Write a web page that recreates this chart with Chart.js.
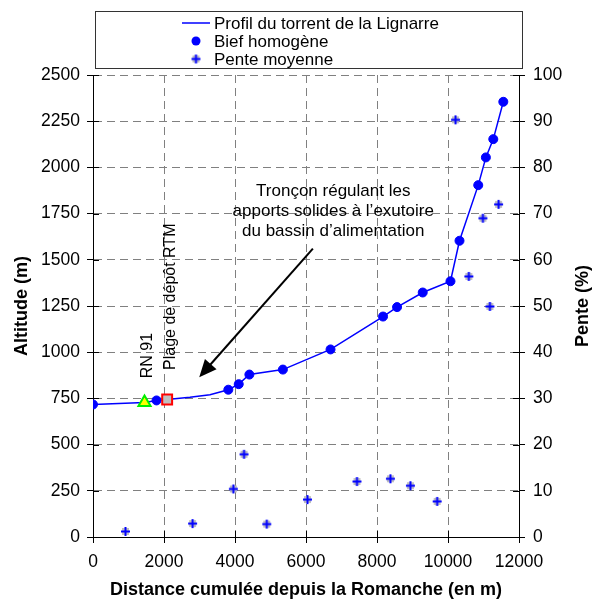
<!DOCTYPE html>
<html>
<head>
<meta charset="utf-8">
<script src="https://cdn.jsdelivr.net/npm/chart.js@4.4.1/dist/chart.umd.min.js"></script>
<style>
  html, body { margin: 0; padding: 0; background: #fff; }
</style>
</head>
<body>
<canvas id="chart" width="599" height="605"></canvas>
<script>
// profil en long (line)
const profilX = [0, 1451, 1790, 2089, 2730, 3295, 3812, 4105, 4405, 5349, 6691, 8170, 8565, 9288, 10070, 10324, 10852, 11067, 11276, 11558];
const profilY = [717, 728, 739, 744, 756, 770, 797, 827, 879, 906, 1015, 1193, 1244, 1323, 1384, 1603, 1904, 2054, 2153, 2355];

// biefs homogènes (dots)
const biefX = [0, 1790, 3812, 4105, 4405, 5349, 6691, 8170, 8565, 9288, 10070, 10324, 10852, 11067, 11276, 11558];
const biefY = [717, 739, 797, 827, 879, 906, 1015, 1193, 1244, 1323, 1384, 1603, 1904, 2054, 2153, 2355];

// pente moyenne (%), right axis
const penteX = [915, 2806, 3953, 4255, 4896, 6042, 7436, 8377, 8941, 9694, 10212, 10587, 10983, 11180, 11426];
const penteY = [1.2, 2.9, 10.4, 17.9, 2.8, 8.1, 12.0, 12.6, 11.1, 7.7, 90.3, 56.4, 69.0, 49.9, 72.0];

// RN 91 (triangle) and plage de dépôt RTM (square)
const rn91X = [1451];
const rn91Y = [728];
const plageX = [2089];
const plageY = [744];

const xTicks = [0, 2000, 4000, 6000, 8000, 10000, 12000];
const altTicks = [0, 250, 500, 750, 1000, 1250, 1500, 1750, 2000, 2250, 2500];
const penteTicks = [0, 10, 20, 30, 40, 50, 60, 70, 80, 90, 100];

const FONT = "'Liberation Sans', Arial, sans-serif";

function pts(xs, ys) {
    return xs.map((x, i) => ({ x: x, y: ys[i] }));
}

function penteMarker() {
    const c = document.createElement('canvas');
    c.width = 11; c.height = 11;
    const g = c.getContext('2d');
    g.fillStyle = '#c0c0c0';
    g.fillRect(2, 2, 7, 7);
    g.strokeStyle = '#0000ff';
    g.lineWidth = 2;
    g.beginPath();
    g.moveTo(1, 5.5); g.lineTo(10, 5.5);
    g.moveTo(5.5, 1); g.lineTo(5.5, 10);
    g.stroke();
    return c;
}
const penteImg = penteMarker();

// inner half of the tick marks (ticks cross the axis line)
const crossTicks = {
    id: 'crossTicks',
    afterDraw(chart) {
        const ctx = chart.ctx;
        const a = chart.chartArea;
        const sx = chart.scales.x, sy = chart.scales.y, sy1 = chart.scales.y1;
        ctx.save();
        ctx.strokeStyle = '#000';
        ctx.lineWidth = 1;
        ctx.beginPath();
        xTicks.forEach(v => {
            const p = Math.round(sx.getPixelForValue(v)) + 0.5;
            ctx.moveTo(p, a.bottom); ctx.lineTo(p, a.bottom - 6);
        });
        altTicks.forEach(v => {
            const p = Math.round(sy.getPixelForValue(v)) + 0.5;
            ctx.moveTo(a.left, p); ctx.lineTo(a.left + 6, p);
        });
        penteTicks.forEach(v => {
            const p = Math.round(sy1.getPixelForValue(v)) + 0.5;
            ctx.moveTo(a.right, p); ctx.lineTo(a.right - 6, p);
        });
        ctx.stroke();
        ctx.restore();
    }
};

// texts and arrow placed in data units
const notes = {
    id: 'notes',
    afterDraw(chart) {
        const ctx = chart.ctx;
        const a = chart.chartArea;
        const sx = chart.scales.x, sy = chart.scales.y;
        ctx.save();
        ctx.fillStyle = '#000';
        ctx.font = '17px ' + FONT;
        ctx.textAlign = 'center';
        ctx.textBaseline = 'middle';
        const tx = sx.getPixelForValue(6767);
        const ty = sy.getPixelForValue(1761);
        ctx.fillText('Tronçon régulant les', tx, ty - 20);
        ctx.fillText('apports solides à l\u2019exutoire', tx, ty);
        ctx.fillText('du bassin d\u2019alimentation', tx, ty + 20);

        const vert = (txt, x, y) => {
            ctx.save();
            ctx.translate(x, y);
            ctx.rotate(-Math.PI / 2);
            ctx.fillText(txt, 0, 0);
            ctx.restore();
        };
        ctx.font = '16px ' + FONT;
        vert('RN 91', sx.getPixelForValue(1545), sy.getPixelForValue(982));
        vert('Plage de dépôt RTM', sx.getPixelForValue(2185), sy.getPixelForValue(1300));

        // right axis title, read bottom to top like the left one
        ctx.font = 'bold 18px ' + FONT;
        vert('Pente (%)', 583, (a.top + a.bottom) / 2);

        // arrow
        const x1 = sx.getPixelForValue(6194), y1 = sy.getPixelForValue(1560);
        const x2 = sx.getPixelForValue(2993), y2 = sy.getPixelForValue(865);
        const ang = Math.atan2(y2 - y1, x2 - x1);
        const head = 19;
        ctx.strokeStyle = '#000';
        ctx.lineWidth = 2;
        ctx.beginPath();
        ctx.moveTo(x1, y1);
        ctx.lineTo(x2 - Math.cos(ang) * head * 0.8, y2 - Math.sin(ang) * head * 0.8);
        ctx.stroke();
        ctx.beginPath();
        ctx.moveTo(x2, y2);
        ctx.lineTo(x2 - head * Math.cos(ang - 0.42), y2 - head * Math.sin(ang - 0.42));
        ctx.lineTo(x2 - head * Math.cos(ang + 0.42), y2 - head * Math.sin(ang + 0.42));
        ctx.closePath();
        ctx.fill();
        ctx.restore();
    }
};

// boxed legend above the plot
const boxLegend = {
    id: 'boxLegend',
    afterDraw(chart) {
        const ctx = chart.ctx;
        const ds = chart.data.datasets;
        ctx.save();
        ctx.strokeStyle = '#333';
        ctx.lineWidth = 1;
        ctx.strokeRect(95.5, 11.5, 427, 57);
        ctx.font = '17px ' + FONT;
        ctx.fillStyle = '#000';
        ctx.textBaseline = 'middle';
        ctx.textAlign = 'left';
        const rows = [23, 41, 59];
        // line sample
        ctx.strokeStyle = '#0000ff';
        ctx.lineWidth = 1.5;
        ctx.beginPath();
        ctx.moveTo(182, rows[0]); ctx.lineTo(210, rows[0]);
        ctx.stroke();
        // dot
        ctx.fillStyle = '#0000ff';
        ctx.beginPath();
        ctx.arc(196, rows[1], 4.5, 0, Math.PI * 2);
        ctx.fill();
        // pente marker
        ctx.drawImage(penteImg, 196 - 5.5, rows[2] - 5.5);
        ctx.fillStyle = '#000';
        for (let i = 0; i < 3; i++) {
            ctx.fillText(ds[i].label, 214, rows[i] + 1);
        }
        ctx.restore();
    }
};

const gridCol = (v, hide) => hide.includes(v) ? 'rgba(0,0,0,0)' : '#808080';

new Chart(document.getElementById('chart'), {
    type: 'scatter',
    data: {
        datasets: [
            {
                label: 'Profil du torrent de la Lignarre',
                type: 'line',
                data: pts(profilX, profilY),
                borderColor: '#0000ff',
                borderWidth: 1.5,
                pointRadius: 0,
                showLine: true,
                tension: 0,
                yAxisID: 'y',
                order: 5
            },
            {
                label: 'Bief homogène',
                data: pts(biefX, biefY),
                backgroundColor: '#0000ff',
                borderColor: '#0000ff',
                pointRadius: 4.5,
                yAxisID: 'y',
                order: 4
            },
            {
                label: 'Pente moyenne',
                data: pts(penteX, penteY),
                pointStyle: penteImg,
                yAxisID: 'y1',
                order: 3
            },
            {
                label: 'RN 91',
                data: pts(rn91X, rn91Y),
                pointStyle: 'triangle',
                pointRadius: 7,
                backgroundColor: '#ffff00',
                borderColor: '#00ee00',
                borderWidth: 2,
                yAxisID: 'y',
                order: 2
            },
            {
                label: 'Plage de dépôt RTM',
                data: pts(plageX, plageY),
                pointStyle: 'rect',
                pointRadius: 7,
                backgroundColor: '#c0c0c0',
                borderColor: '#ff0000',
                borderWidth: 2,
                yAxisID: 'y',
                order: 1
            }
        ]
    },
    options: {
        responsive: false,
        animation: false,
        devicePixelRatio: 1,
        layout: { padding: { top: 75, left: 0, right: 0, bottom: 0 } },
        plugins: {
            legend: { display: false },
            tooltip: { enabled: false }
        },
        scales: {
            x: {
                type: 'linear',
                min: 0, max: 12000,
                afterFit: s => { s.height = 68; },
                afterBuildTicks: s => { s.ticks = xTicks.map(v => ({ value: v })); },
                ticks: {
                    color: '#000',
                    font: { family: FONT, size: 17.5 },
                    padding: 9,
                    maxRotation: 0,
                    callback: v => String(v)
                },
                grid: {
                    color: c => gridCol(c.tick && c.tick.value, [0, 12000]),
                    tickColor: '#000',
                    tickLength: 6,
                    lineWidth: 1
                },
                border: { color: '#000', width: 1, dash: [8, 5] },
                title: {
                    display: true,
                    text: 'Distance cumulée depuis la Romanche (en m)',
                    color: '#000',
                    font: { family: FONT, size: 18, weight: 'bold' },
                    padding: { bottom: 4 }
                }
            },
            y: {
                position: 'left',
                min: 0, max: 2500,
                afterFit: s => { s.width = 93; },
                afterBuildTicks: s => { s.ticks = altTicks.map(v => ({ value: v })); },
                ticks: {
                    color: '#000',
                    font: { family: FONT, size: 17.5 },
                    padding: 7,
                    callback: v => String(v)
                },
                grid: {
                    color: c => gridCol(c.tick && c.tick.value, [0]),
                    tickColor: '#000',
                    tickLength: 6,
                    lineWidth: 1
                },
                border: { color: '#000', width: 1, dash: [8, 5] },
                title: {
                    display: true,
                    text: 'Altitude (m)',
                    color: '#000',
                    font: { family: FONT, size: 18, weight: 'bold' },
                    padding: { top: 11 }
                }
            },
            y1: {
                position: 'right',
                min: 0, max: 100,
                afterFit: s => { s.width = 80; },
                afterBuildTicks: s => { s.ticks = penteTicks.map(v => ({ value: v })); },
                ticks: {
                    color: '#000',
                    font: { family: FONT, size: 17.5 },
                    padding: 8,
                    callback: v => String(v)
                },
                grid: {
                    drawOnChartArea: false,
                    tickColor: '#000',
                    tickLength: 6
                },
                border: { color: '#000', width: 1 },
                title: { display: false }
            }
        }
    },
    plugins: [crossTicks, notes, boxLegend]
});
</script>
</body>
</html>
